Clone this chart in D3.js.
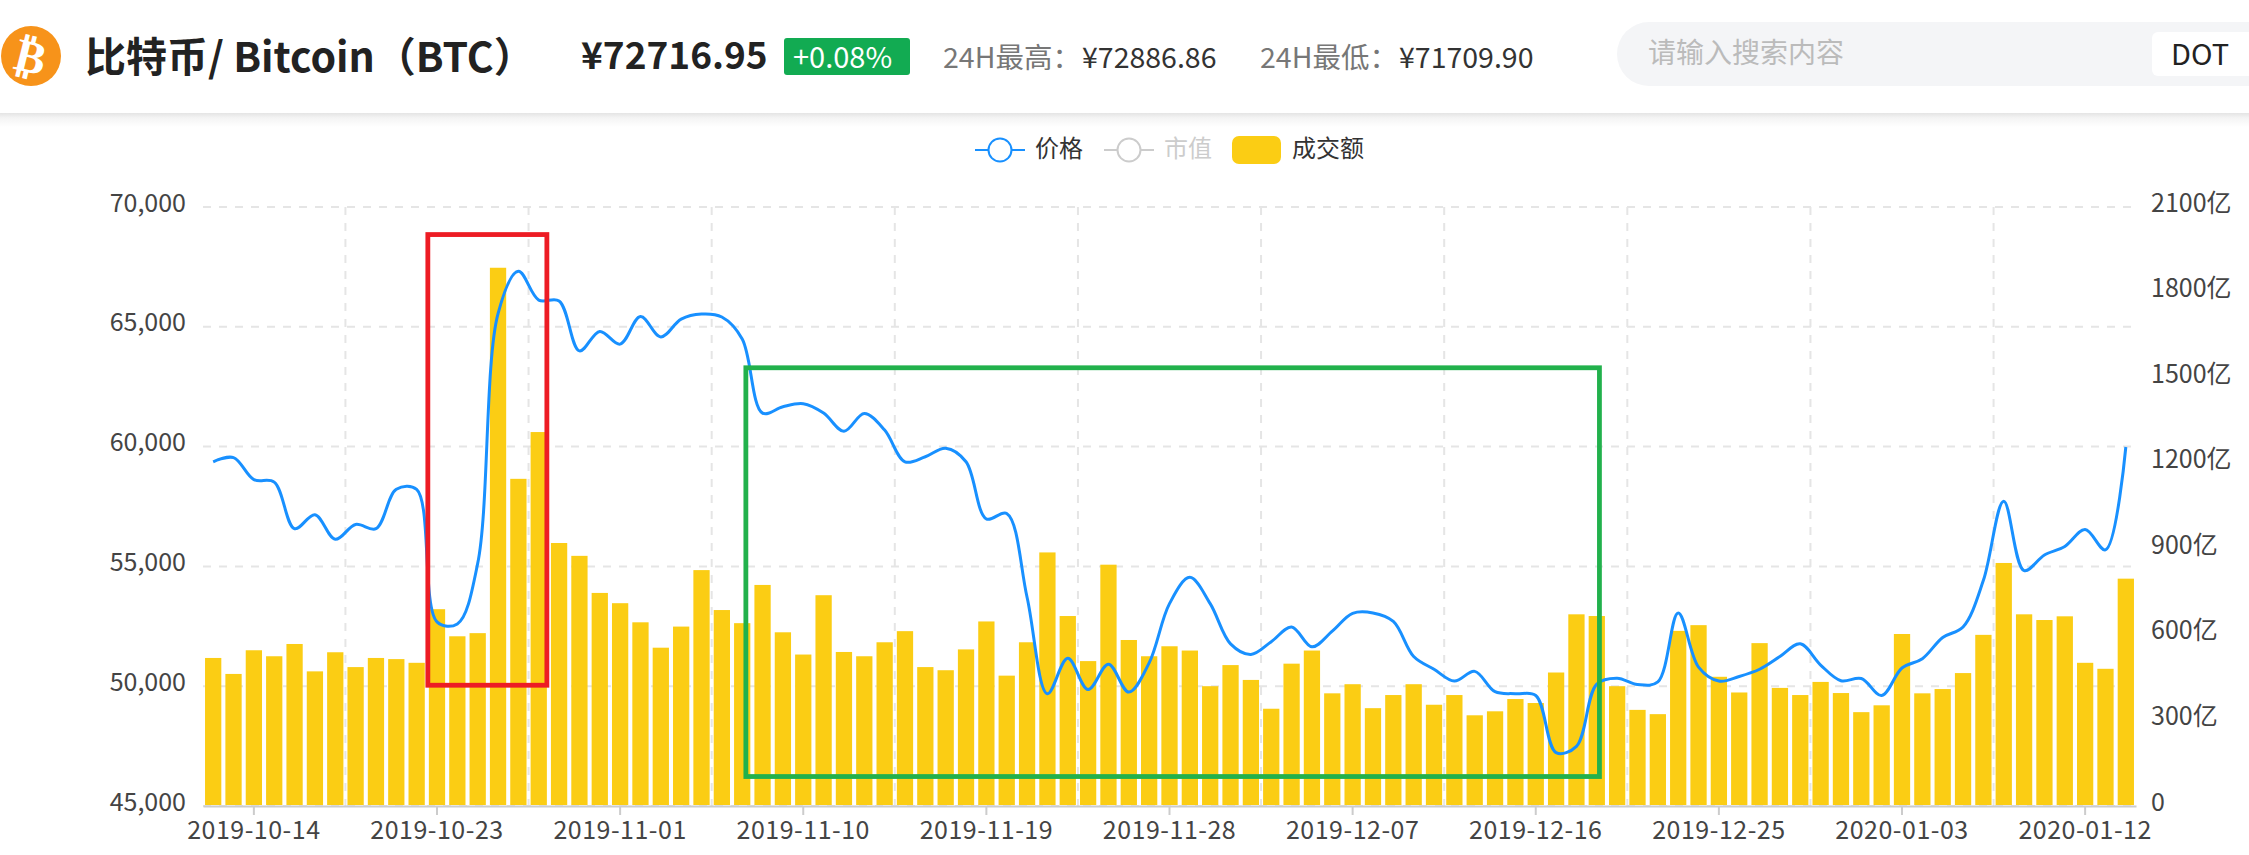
<!DOCTYPE html>
<html>
<head>
<meta charset="utf-8">
<script src="https://cdn.jsdelivr.net/npm/d3@7"></script>
<style>
	html, body { margin: 0; padding: 0; background: #fff; overflow: hidden; }
	svg { display: block; }
	text { font-family: "Noto Sans CJK SC", "Noto Sans", sans-serif; }
</style>
</head>
<body>
<script>
const fmtDate = d3.utcFormat("%Y-%m-%d");
const dates = d3.utcDay.range(new Date(Date.UTC(2019, 9, 12)), new Date(Date.UTC(2020, 0, 15))).map(fmtDate);

const tickDates = ["2019-10-14", "2019-10-23", "2019-11-01", "2019-11-10", "2019-11-19",
	"2019-11-28", "2019-12-07", "2019-12-16", "2019-12-25", "2020-01-03", "2020-01-12"];
const splitDates = ["2019-10-19", "2019-10-28", "2019-11-06", "2019-11-15", "2019-11-24",
	"2019-12-03", "2019-12-12", "2019-12-21", "2019-12-30", "2020-01-08"];
const priceTicks = [45000, 50000, 55000, 60000, 65000, 70000];
const volumeTicks = [0, 300, 600, 900, 1200, 1500, 1800, 2100];

const price = [59366, 59542, 58624, 58518, 56574, 57157, 56132, 56751, 56574, 58217,
	58217, 52686, 52600, 55125, 65550, 67317, 66116, 66080, 63995, 64808,
	64278, 65427, 64578, 65321, 65533, 65409, 64490, 61398, 61663, 61787,
	61398, 60638, 61380, 60691, 59366, 59578, 59931, 59366, 56980, 57210,
	53711, 49683, 51167, 49859, 50919, 49753, 50972, 53446, 54542, 53446,
	51768, 51326, 51856, 52474, 51644, 52298, 53040, 53058, 52704, 51238,
	50707, 50213, 50619, 49771, 49683, 49612, 47226, 47491, 50089, 50336,
	50071, 50177, 53058, 50796, 50213, 50407, 50707, 51238, 51768, 50884,
	50230, 50319, 49612, 50760, 51149, 52033, 52474, 54418, 57722, 54825,
	55478, 55832, 56539, 55690, 59984];

const volume = [519, 463, 546, 525, 568, 472, 539, 487, 519, 515,
	502, 690, 595, 606, 1887, 1147, 1311, 922, 877, 747,
	711, 644, 555, 629, 827, 687, 641, 775, 609, 531,
	739, 540, 525, 574, 613, 487, 476, 549, 647, 457,
	574, 889, 666, 508, 846, 582, 525, 560, 545, 420,
	494, 442, 341, 499, 545, 395, 427, 343, 389, 427,
	355, 389, 318, 332, 375, 361, 468, 672, 666, 420,
	337, 322, 614, 634, 453, 398, 571, 414, 389, 435,
	396, 329, 353, 603, 395, 410, 466, 600, 852, 672,
	652, 665, 502, 481, 797];

// hand drawn boxes on the screenshot: fractional day index and price
const boxes = [
	{ from: 11.05, to: 16.9, top: 68850, bottom: 50040, colour: "#ed1c24" },
	{ from: 26.68, to: 68.63, top: 63290, bottom: 46230, colour: "#22b14c" }
];

const width = 2249, height = 855;
const margin = ({ top: 207, right: 113, bottom: 49, left: 203 });

const x = d3.scaleBand()
	.domain(dates)
	.range([margin.left, width - margin.right])
	.paddingInner(0.2)
	.paddingOuter(0.1);
const splitOffset = (x.step() - x.bandwidth()) / 2;

const xIndex = d3.scaleLinear()
	.domain([0, dates.length])
	.range([margin.left, width - margin.right]);

const yPrice = d3.scaleLinear()
	.domain([45000, 70000])
	.range([height - margin.bottom, margin.top]);

const yVolume = d3.scaleLinear()
	.domain([0, 2100])
	.range([height - margin.bottom, margin.top]);

const svg = d3.select("body").append("svg")
	.attr("width", width)
	.attr("height", height);

// page header
const defs = svg.append("defs");
const shade = defs.append("linearGradient")
	.attr("id", "shade")
	.attr("x1", 0).attr("x2", 0).attr("y1", 0).attr("y2", 1);
shade.append("stop").attr("offset", 0).attr("stop-color", "#e4e4e4");
shade.append("stop").attr("offset", 0.35).attr("stop-color", "#f4f4f4");
shade.append("stop").attr("offset", 1).attr("stop-color", "#fff");

svg.append("rect")
	.attr("x", 0).attr("y", 113)
	.attr("width", width).attr("height", 14)
	.attr("fill", "url(#shade)");

svg.append("circle")
	.attr("cx", 31).attr("cy", 56).attr("r", 30)
	.attr("fill", "#f7931a");
svg.append("text")
	.attr("transform", "translate(31,56) rotate(14)")
	.attr("text-anchor", "middle")
	.attr("dy", "0.36em")
	.attr("fill", "#fff")
	.attr("font-size", 46)
	.attr("font-weight", 700)
	.style("font-family", "'DejaVu Sans'")
	.text("₿");

const headerText = (tx, ty, size, colour, weight, str) => svg.append("text")
	.attr("x", tx).attr("y", ty)
	.attr("font-size", size)
	.attr("font-weight", weight)
	.attr("fill", colour)
	.text(str);

headerText(85, 72, 41, "#222", 700, "比特币/ Bitcoin（BTC）");
headerText(581, 69, 37, "#222", 700, "¥72716.95");

svg.append("rect")
	.attr("x", 784).attr("y", 38)
	.attr("width", 126).attr("height", 37).attr("rx", 3)
	.attr("fill", "#12ab52");
headerText(793, 68, 29, "#fff", 400, "+0.08%");

headerText(943, 68, 28.5, "#777", 400, "24H最高：");
headerText(1082, 68, 28.5, "#333", 400, "¥72886.86");
headerText(1260, 68, 28.5, "#777", 400, "24H最低：");
headerText(1399, 68, 28.5, "#333", 400, "¥71709.90");

svg.append("rect")
	.attr("x", 1617).attr("y", 22)
	.attr("width", 680).attr("height", 64).attr("rx", 32)
	.attr("fill", "#f4f5f7");
headerText(1648, 63, 28, "#bbb", 400, "请输入搜索内容");
svg.append("rect")
	.attr("x", 2152).attr("y", 32)
	.attr("width", 110).attr("height", 44).attr("rx", 6)
	.attr("fill", "#fff");
headerText(2171, 65, 29, "#222", 400, "DOT");

// legend
const legendLine = (lx, colour) => {
	svg.append("line")
		.attr("x1", lx).attr("x2", lx + 50)
		.attr("y1", 150).attr("y2", 150)
		.attr("stroke", colour).attr("stroke-width", 2);
	svg.append("circle")
		.attr("cx", lx + 25).attr("cy", 150).attr("r", 11.5)
		.attr("fill", "#fff")
		.attr("stroke", colour).attr("stroke-width", 2);
};
legendLine(975, "#1890ff");
legendLine(1104, "#ccc");
svg.append("rect")
	.attr("x", 1232).attr("y", 136)
	.attr("width", 49).attr("height", 28).attr("rx", 7)
	.attr("fill", "#fbcd14");
headerText(1035, 157, 24, "#333", 400, "价格");
headerText(1164, 157, 24, "#ccc", 400, "市值");
headerText(1292, 157, 24, "#333", 400, "成交额");

// grid
svg.append("g")
	.selectAll("line")
	.data(priceTicks)
	.join("line")
	.attr("x1", margin.left)
	.attr("x2", width - margin.right)
	.attr("y1", d => yPrice(d))
	.attr("y2", d => yPrice(d))
	.attr("stroke", "#e5e5e5")
	.attr("stroke-width", 2)
	.attr("stroke-dasharray", "8,8");

svg.append("g")
	.selectAll("line")
	.data(splitDates)
	.join("line")
	.attr("x1", d => x(d) - splitOffset)
	.attr("x2", d => x(d) - splitOffset)
	.attr("y1", margin.top)
	.attr("y2", height - margin.bottom)
	.attr("stroke", "#e5e5e5")
	.attr("stroke-width", 2)
	.attr("stroke-dasharray", "8,8");

// bars
svg.append("g")
	.selectAll("rect")
	.data(volume)
	.join("rect")
	.attr("fill", "#fbcd14")
	.attr("x", (d, i) => x(dates[i]))
	.attr("width", x.bandwidth())
	.attr("y", d => yVolume(d))
	.attr("height", d => yVolume(0) - yVolume(d) - 1);

// axes
const styleAxis = g => {
	g.selectAll("text")
		.attr("font-size", 25)
		.attr("fill", "#444")
		.style("font-family", "'Noto Sans CJK SC'");
	g.selectAll("line").attr("stroke", "#ccc").attr("stroke-width", 2);
	g.select(".domain").attr("stroke", "#ccc").attr("stroke-width", 2);
};

svg.append("g")
	.attr("transform", `translate(0,${height - margin.bottom})`)
	.call(d3.axisBottom(x).tickValues(tickDates).tickSize(9).tickSizeOuter(0).tickPadding(6))
	.call(styleAxis)
	.call(g => g.selectAll("text").attr("letter-spacing", 0.5));

svg.append("g")
	.attr("transform", `translate(${margin.left},0)`)
	.call(d3.axisLeft(yPrice).tickValues(priceTicks).tickFormat(d3.format(",")).tickSize(0).tickPadding(17))
	.call(g => g.select(".domain").remove())
	.call(styleAxis)
	.call(g => g.selectAll("text").attr("dy", "0.16em"));

svg.append("g")
	.attr("transform", `translate(${width - margin.right},0)`)
	.call(d3.axisRight(yVolume).tickValues(volumeTicks).tickFormat(d => d === 0 ? "0" : d + "亿").tickSize(0).tickPadding(15))
	.call(g => g.select(".domain").remove())
	.call(styleAxis)
	.call(g => g.selectAll("text").attr("dy", "0.16em"));

// price line
const line = d3.line()
	.x((d, i) => x(dates[i]) + x.bandwidth() / 2)
	.y(d => yPrice(d))
	.curve(d3.curveCatmullRom.alpha(0.5));

svg.append("path")
	.datum(price)
	.attr("fill", "none")
	.attr("stroke", "#1890ff")
	.attr("stroke-width", 3)
	.attr("d", line);

// annotation boxes
svg.append("g")
	.selectAll("rect")
	.data(boxes)
	.join("rect")
	.attr("fill", "none")
	.attr("stroke", d => d.colour)
	.attr("stroke-width", 4.8)
	.attr("x", d => xIndex(d.from))
	.attr("width", d => xIndex(d.to) - xIndex(d.from))
	.attr("y", d => yPrice(d.top))
	.attr("height", d => yPrice(d.bottom) - yPrice(d.top));
</script>
</body>
</html>
